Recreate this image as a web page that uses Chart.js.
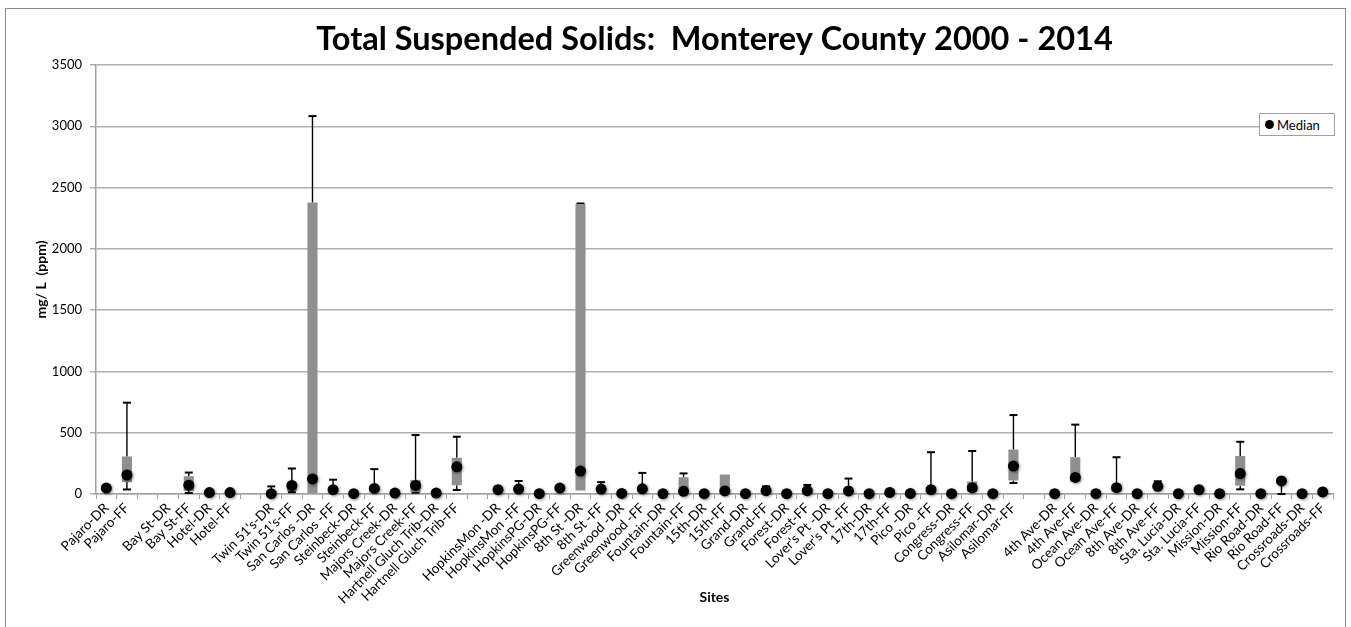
<!DOCTYPE html>
<html>
<head>
<meta charset="utf-8">
<script src="https://cdn.jsdelivr.net/npm/chart.js@4"></script>
<style>
  body { margin: 0; background: #fff; }
  #wrap { position: relative; width: 1351px; height: 627px; overflow: hidden; }
  #frame { position: absolute; left: 5px; top: 8px; width: 1341px; height: 640px; border: 1px solid #8a8a8a; box-sizing: border-box; pointer-events: none; }
  #legend { position: absolute; left: 1259px; top: 113px; width: 76px; height: 23px; background: #fff; border: 1px solid #a0a0a0; box-sizing: border-box; font: 13px Lato, sans-serif; color: #000; display: flex; align-items: center; padding-left: 5px; }
  #legend span.dot { display: inline-block; width: 9px; height: 9px; border-radius: 50%; background: #000; margin-right: 3px; }
</style>
</head>
<body>
<div id="wrap">
  <canvas id="tss" width="1351" height="627"></canvas>
  <div id="frame"></div>
  <div id="legend"><span class="dot"></span>Median</div>
</div>
<script>
// sites along x axis ('' = empty spacer slot)
const sites = ['Pajaro-DR','Pajaro-FF','','Bay St-DR','Bay St-FF','Hotel-DR','Hotel-FF','',
  "Twin 51's-DR","Twin 51's-FF",'San Carlos -DR','San Carlos -FF','Steinbeck-DR','Steinbeck-FF',
  'Majors Creek-DR','Majors Creek-FF','Hartnell Gluch Trib-DR','Hartnell Gluch Trib-FF','',
  'HopkinsMon -DR','HopkinsMon -FF','HopkinsPG-DR','HopkinsPG-FF','8th St -DR','8th St -FF',
  'Greenwood -DR','Greenwood -FF','Fountain-DR','Fountain-FF','15th-DR','15th-FF','Grand-DR','Grand-FF',
  'Forest-DR','Forest-FF',"Lover's Pt -DR","Lover's Pt -FF",'17th-DR','17th-FF','Pico -DR','Pico -FF',
  'Congress-DR','Congress-FF','Asilomar-DR','Asilomar-FF','',
  '4th Ave-DR','4th Ave-FF','Ocean Ave-DR','Ocean Ave-FF','8th Ave-DR','8th Ave-FF',
  'Sta. Lucia-DR','Sta. Lucia-FF','Mission-DR','Mission-FF','Rio Road-DR','Rio Road-FF',
  'Crossroads-DR','Crossroads-FF'];

const median = [48,155,null,null,72,12,12,null,
  3,70,123,35,3,45,
  8,70,8,222,null,
  35,40,3,48,187,40,
  5,42,3,22,3,25,3,27,
  3,27,3,25,3,13,5,35,
  3,50,3,228,null,
  3,135,3,52,3,63,
  3,35,3,167,3,107,
  3,17];

const q1 = [25,97,null,null,25,null,null,null,
  0,25,0,15,null,15,
  null,15,null,72,null,
  null,20,null,30,28,20,
  null,20,null,10,null,10,null,10,
  null,10,null,10,null,null,null,15,
  null,20,null,110,null,
  null,100,null,20,null,40,
  null,null,null,68,null,95,
  null,null];

const q3 = [60,306,null,null,145,null,null,null,
  10,85,2378,50,null,60,
  null,115,null,295,null,
  null,55,null,62,2365,55,
  null,55,null,137,null,159,null,45,
  null,45,null,40,null,null,null,45,
  null,102,null,363,null,
  null,300,null,60,null,85,
  null,null,null,310,null,115,
  null,null];

const whiskerMin = [null,37,null,null,8,null,null,null,
  null,15,null,null,null,null,
  null,10,null,33,null,
  null,null,null,null,null,null,
  null,null,null,null,null,null,null,null,
  null,null,null,null,null,null,null,null,
  null,null,null,90,null,
  null,null,null,null,null,null,
  null,null,null,38,null,0,
  null,null];

const whiskerMax = [null,745,null,null,175,null,null,null,
  62,208,3083,117,null,203,
  null,481,null,467,null,
  null,106,null,null,2370,97,
  null,172,null,168,null,null,null,63,
  null,74,null,126,null,null,null,341,
  null,351,null,644,null,
  null,566,null,300,null,104,
  null,null,null,426,null,null,
  null,null];

const yTicks = [0,500,1000,1500,2000,2500,3000,3500];

const boxes = q1.map((lo, i) => (lo === null || q3[i] === null) ? null : [lo, q3[i]]);

const FONT = 'Lato, "Open Sans", sans-serif';

// whiskers: q3 -> max, q1 -> min, with caps
const whiskers = {
  id: 'whiskers',
  beforeDatasetsDraw(chart) {
    const {ctx, scales: {x, y}} = chart;
    ctx.save();
    ctx.strokeStyle = '#000';
    const seg = (px, from, to) => {
      const y0 = y.getPixelForValue(from), y1 = y.getPixelForValue(to);
      ctx.lineWidth = 1.4;
      ctx.beginPath(); ctx.moveTo(px, y0); ctx.lineTo(px, y1); ctx.stroke();
      ctx.lineWidth = 2;
      ctx.beginPath(); ctx.moveTo(px - 4, y1); ctx.lineTo(px + 4, y1); ctx.stroke();
    };
    sites.forEach((s, i) => {
      const px = x.getPixelForValue(i);
      if (whiskerMax[i] !== null) seg(px, q3[i] !== null ? q3[i] : median[i], whiskerMax[i]);
      if (whiskerMin[i] !== null) seg(px, q1[i] !== null ? q1[i] : median[i], whiskerMin[i]);
    });
    ctx.restore();
  }
};

// soft shadow on the median dots
const dotShadow = {
  id: 'dotShadow',
  beforeDatasetDraw(chart, args) {
    if (args.index !== 0) return;
    const ctx = chart.ctx;
    ctx.save();
    ctx.shadowColor = 'rgba(0,0,0,0.45)';
    ctx.shadowBlur = 3;
    ctx.shadowOffsetX = 1;
    ctx.shadowOffsetY = 1;
  },
  afterDatasetDraw(chart, args) {
    if (args.index !== 0) return;
    chart.ctx.restore();
  }
};

new Chart(document.getElementById('tss').getContext('2d'), {
  type: 'bar',
  data: {
    labels: sites,
    datasets: [{
      type: 'line',
      label: 'Median',
      data: median,
      showLine: false,
      pointStyle: 'circle',
      pointRadius: 5.5,
      pointHoverRadius: 5.5,
      pointBackgroundColor: '#000',
      pointBorderColor: '#000',
      pointBorderWidth: 0,
      clip: false
    }, {
      label: 'IQR',
      data: boxes,
      backgroundColor: '#8f8f8f',
      borderWidth: 0,
      categoryPercentage: 1,
      barPercentage: 0.49,
      borderSkipped: false
    }]
  },
  options: {
    responsive: false,
    animation: false,
    layout: { padding: { left: 0, right: 18, top: 0, bottom: 0 } },
    plugins: {
      legend: { display: false },
      tooltip: { enabled: false },
      title: {
        display: true,
        fullSize: false,
        text: 'Total Suspended Solids:  Monterey County 2000 - 2014',
        color: '#000',
        font: { family: FONT, size: 32.5, weight: 'bold', lineHeight: 1.2 },
        padding: { top: 20, bottom: 6 }
      }
    },
    scales: {
      x: {
        grid: { display: true, drawOnChartArea: false, offset: true, color: '#a0a0a0', lineWidth: 1, tickLength: 5 },
        border: { color: '#a0a0a0', width: 1.5 },
        ticks: { autoSkip: false, minRotation: 45, maxRotation: 45, color: '#000', font: { family: FONT, size: 13.5 }, padding: 1 },
        title: { display: true, text: 'Sites', color: '#000', font: { family: FONT, size: 14, weight: 'bold', lineHeight: 1.2 }, padding: { top: 21, bottom: 21 } },
        afterFit: s => { s.height = 133; }
      },
      y: {
        min: 0,
        max: 3500,
        afterBuildTicks: s => { s.ticks = yTicks.map(v => ({ value: v })); },
        grid: { color: '#b0b0b0', lineWidth: 1.5, tickLength: 6 },
        border: { color: '#a0a0a0', width: 1.5 },
        ticks: { color: '#000', font: { family: FONT, size: 13 }, padding: 8, callback: v => String(v) },
        title: { display: true, text: 'mg/ L  (ppm)', color: '#000', font: { family: FONT, size: 14, weight: 'bold', lineHeight: 1.2 }, padding: { top: 33, bottom: 0 } },
        afterFit: s => { s.width = 96; }
      }
    }
  },
  plugins: [whiskers, dotShadow]
});
</script>
</body>
</html>
